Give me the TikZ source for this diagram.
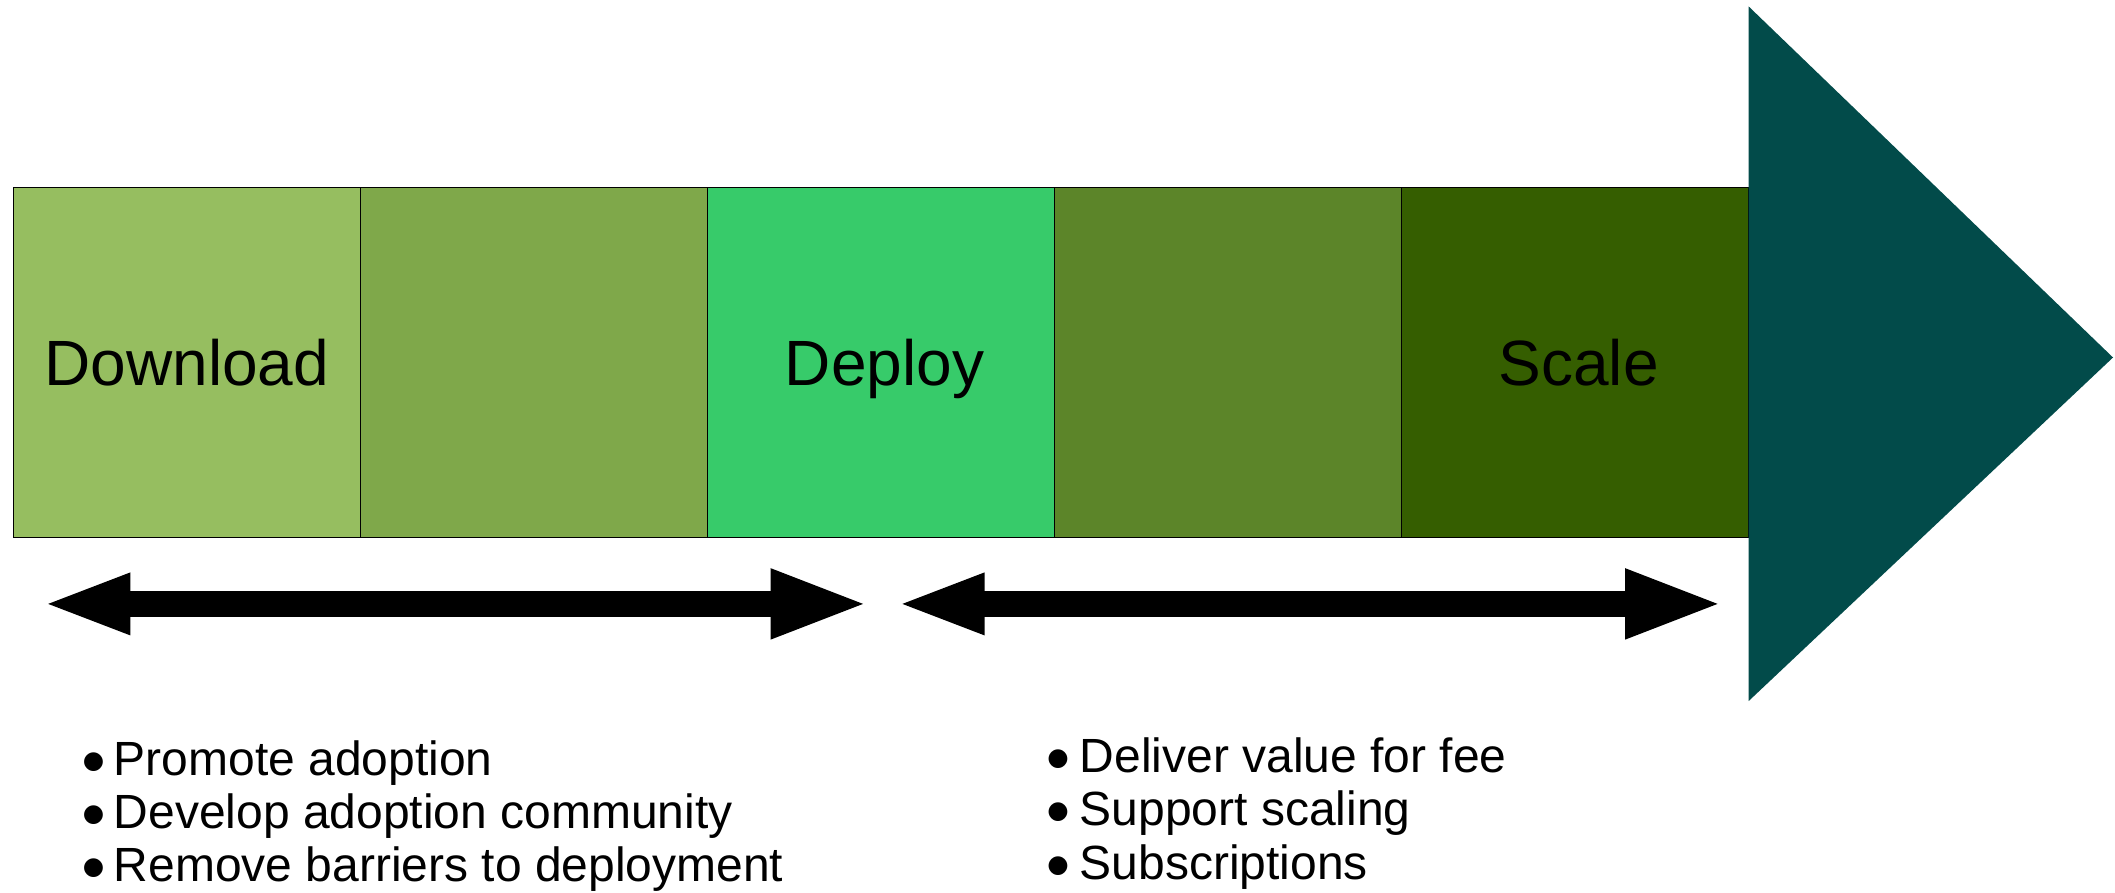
\documentclass[tikz,border=0pt]{standalone}
\usepackage{fontspec}
\setmainfont{Liberation Sans}
\newfontfamily\dotfont{DejaVu Sans}
\usetikzlibrary{arrows.meta}
\definecolor{cA}{HTML}{96BE60}
\definecolor{cB}{HTML}{7FA84A}
\definecolor{cC}{HTML}{37CB6A}
\definecolor{cD}{HTML}{5C8529}
\definecolor{cE}{HTML}{355E00}
\definecolor{cHead}{HTML}{024B4A}
\newcommand{\dotmark}{{\dotfont\fontsize{24.5}{24.5}\selectfont\raisebox{7pt}{●}}}
\newcommand{\bulL}{\llap{\makebox[0pt][c]{\dotmark}\hspace*{20.3pt}}}
\newcommand{\bulR}{\llap{\makebox[0pt][c]{\dotmark}\hspace*{21.7pt}}}
\begin{document}
\begin{tikzpicture}[x=1pt,y=-1pt,
  phase/.style={draw=black, line width=1.2pt, minimum width=347.1pt, minimum height=350pt,
    inner sep=0pt, text height=45.8pt, text depth=0pt, font=\fontsize{64}{64}\selectfont},
  span/.style={line width=26.5pt, {Triangle[length=88.5pt,width=55pt]}-{Triangle[length=99.5pt,width=62.6pt]}},
  itemlist/.style={anchor=base west, inner sep=0pt, font=\fontsize{48}{53.2}\selectfont}]
\useasboundingbox (0,0) rectangle (2115,893);
% phase boxes
\node[phase, fill=cA] (p1) at (186.85,362.3) {Download};
\node[phase, fill=cB] (p2) at (533.95,362.3) {};
\node[phase, fill=cC] (p3) at (881.05,362.3) {\hspace*{7pt}Deploy};
\node[phase, fill=cD] (p4) at (1228.15,362.3) {};
\node[phase, fill=cE] (p5) at (1575.25,362.3) {\hspace*{7pt}Scale};
% arrow head
\coordinate (htop) at (1748.7,6.5);
\coordinate (htip) at (2113,357.5);
\coordinate (hbot) at (1748.7,701);
\fill[cHead] (htop) -- (htip) -- (hbot) -- cycle;
% spans
\coordinate (s1a) at (41.8,603.9);
\coordinate (s1b) at (870,603.9);
\coordinate (s2a) at (896,603.9);
\coordinate (s2b) at (1724.5,603.9);
\draw[span] (s1a) -- (s1b);
\draw[span] (s2a) -- (s2b);
% bullet lists
\node[itemlist] (left) at (113.6,775) {\begin{tabular}[t]{@{}l@{}}
\bulL Promote adoption\\
\bulL Develop adoption community\\
\bulL Remove barriers to deployment
\end{tabular}};
\node[itemlist] (right) at (1079.6,772.7) {\begin{tabular}[t]{@{}l@{}}
\bulR Deliver value for fee\\
\bulR Support scaling\\
\bulR Subscriptions
\end{tabular}};
\end{tikzpicture}
\end{document}
